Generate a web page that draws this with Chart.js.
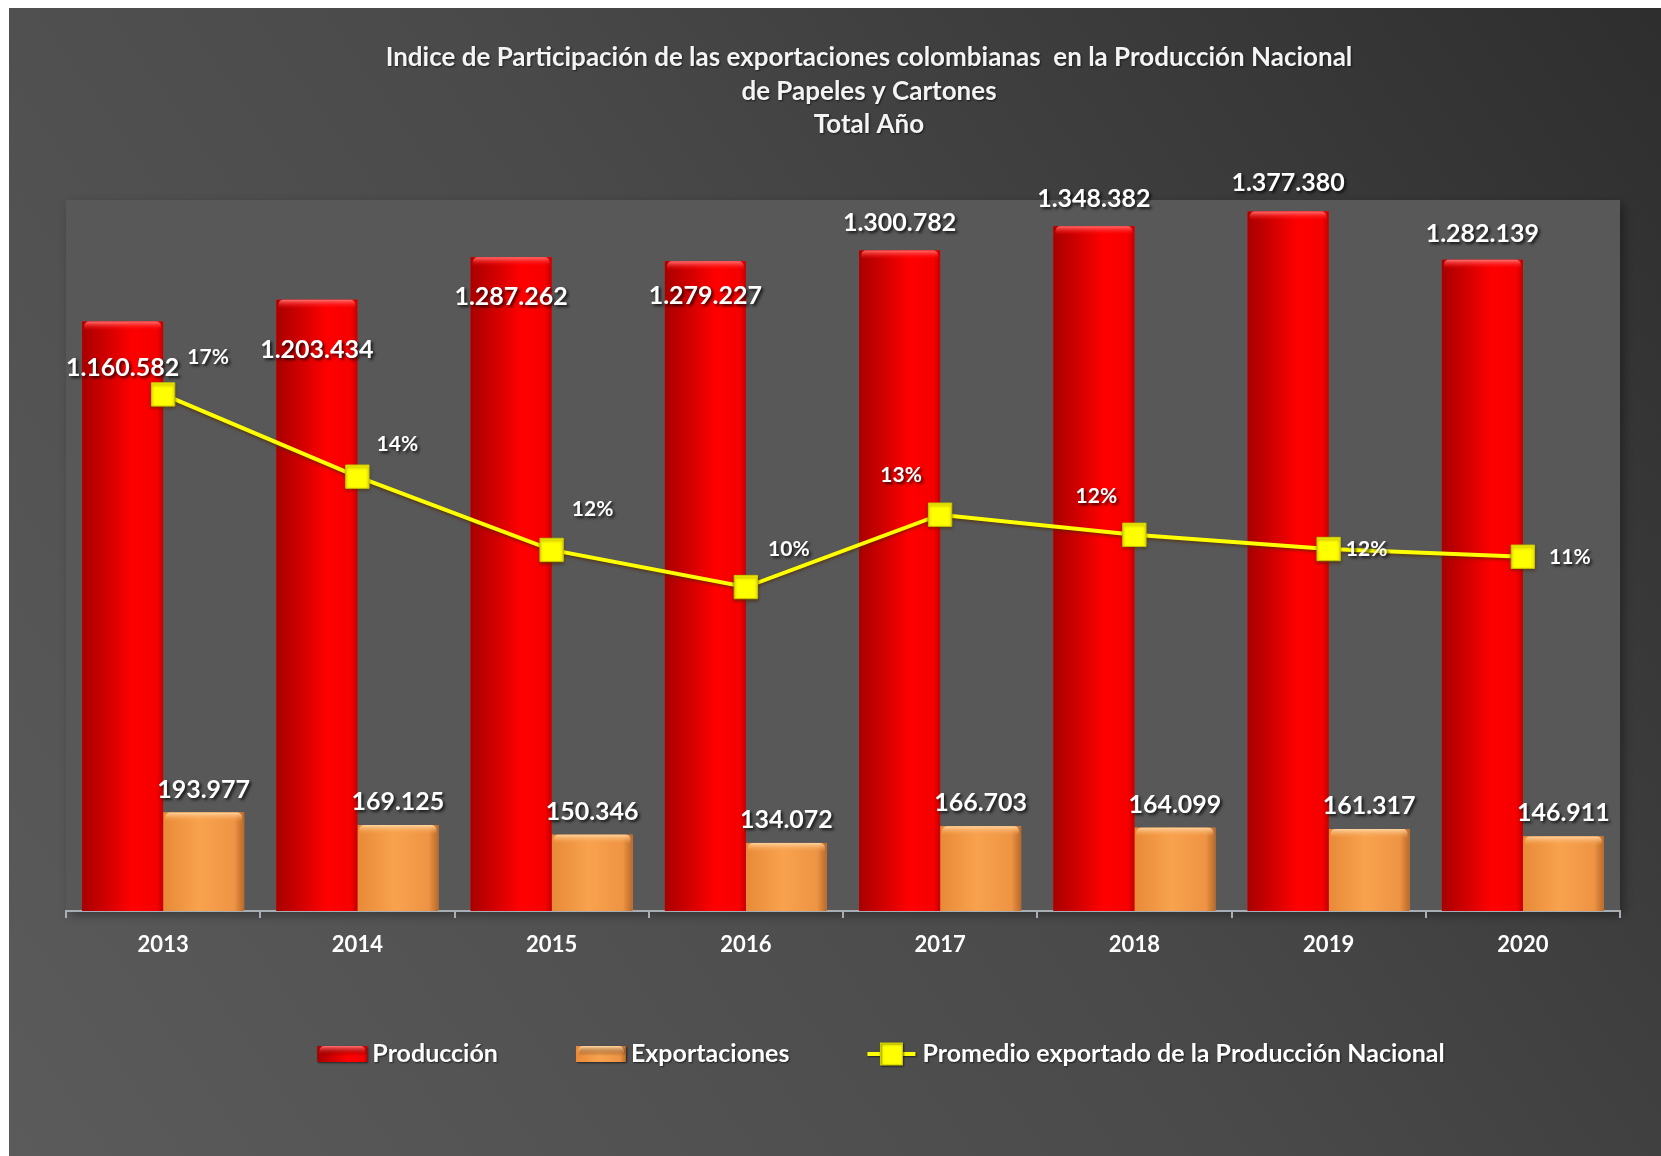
<!DOCTYPE html>
<html>
<head>
<meta charset="utf-8">
<title>Indice de Participación - Papeles y Cartones</title>
<script src="https://cdn.jsdelivr.net/npm/chart.js@4.4.1/dist/chart.umd.min.js"></script>
<style>
  html, body { margin: 0; padding: 0; background: #fff; }
  #wrap { position: absolute; left: 0; top: 0; width: 1661px; height: 1156px; }
</style>
</head>
<body>
<div id="wrap"><canvas id="chart" width="1661" height="1156"></canvas></div>
<script>
const years = ['2013', '2014', '2015', '2016', '2017', '2018', '2019', '2020']
const produccion = [1160582, 1203434, 1287262, 1279227, 1300782, 1348382, 1377380, 1282139]
const exportaciones = [193977, 169125, 150346, 134072, 166703, 164099, 161317, 146911]
// % exportado de la produccion
const promedio = [16.71, 14.05, 11.68, 10.48, 12.82, 12.17, 11.71, 11.46]

const titleLines = [
  'Indice de Participación de las exportaciones colombianas  en la Producción Nacional',
  'de Papeles y Cartones',
  'Total Año'
]
const seriesNames = ['Producción', 'Exportaciones', 'Promedio exportado de la Producción Nacional']

const FONT = 'Lato, "Open Sans", sans-serif'
const fmt = v => String(v).replace(/\B(?=(\d{3})+(?!\d))/g, '.')

// label nudges (px) relative to the element the label belongs to
const prodLabelDy = [46, 50, 40, 35, -27, -27, -29, -26]
const pctLabelOffset = [[45, -37], [40, -32], [41, -41], [43, -38], [-39, -39], [-38, -39], [38, 0], [47, 0]]

const background = {
  id: 'background',
  beforeDraw (chart) {
    const { ctx, width, height, chartArea } = chart
    ctx.save()
    const g = ctx.createLinearGradient(9, height, width, 8)
    g.addColorStop(0, '#5b5b5b')
    g.addColorStop(0.5, '#4a4a4a')
    g.addColorStop(1, '#2e2e2e')
    ctx.fillStyle = g
    ctx.fillRect(9, 8, width - 9, height - 8)
    ctx.shadowColor = 'rgba(0,0,0,0.35)'
    ctx.shadowBlur = 10
    ctx.shadowOffsetX = 4
    ctx.shadowOffsetY = 4
    ctx.fillStyle = '#585858'
    ctx.fillRect(chartArea.left, chartArea.top, chartArea.right - chartArea.left, chartArea.bottom - chartArea.top)
    ctx.restore()
  }
}

const shade = (ctx, left, top, w, h, kind) => {
  const g = ctx.createLinearGradient(left, 0, left + w, 0)
  if (kind === 'red') {
    g.addColorStop(0, '#a80000')
    g.addColorStop(0.35, '#d80000')
    g.addColorStop(0.62, '#ff0000')
    g.addColorStop(0.92, '#f60000')
    g.addColorStop(1, '#c40000')
  } else {
    g.addColorStop(0, '#e88a38')
    g.addColorStop(0.45, '#f8a24e')
    g.addColorStop(0.88, '#ee9444')
    g.addColorStop(1, '#b8692a')
  }
  ctx.fillStyle = g
  ctx.fillRect(left, top, w, h)
  const t = ctx.createLinearGradient(0, top, 0, top + 9)
  t.addColorStop(0, kind === 'red' ? '#ff7070' : '#ffd4a0')
  t.addColorStop(1, kind === 'red' ? 'rgba(255,0,0,0)' : 'rgba(248,162,78,0)')
  ctx.fillStyle = t
  ctx.beginPath()
  ctx.roundRect(left + 2, top, w - 4, Math.min(9, h), [5, 5, 0, 0])
  ctx.fill()
}

const barShading = {
  id: 'barShading',
  afterDatasetDraw (chart, args) {
    if (args.meta.type !== 'bar') return
    const ctx = chart.ctx
    const kind = args.index === 0 ? 'red' : 'orange'
    ctx.save()
    args.meta.data.forEach(bar => {
      const { x, y, base, width } = bar.getProps(['x', 'y', 'base', 'width'], true)
      shade(ctx, x - width / 2, y, width, base - y, kind)
    })
    ctx.restore()
  }
}

const lineShadow = {
  id: 'lineShadow',
  beforeDatasetDraw (chart, args) {
    if (args.meta.type !== 'line') return
    const ctx = chart.ctx
    ctx.save()
    ctx.shadowColor = 'rgba(80,40,0,0.6)'
    ctx.shadowBlur = 3
    ctx.shadowOffsetY = 2
  },
  afterDatasetDraw (chart, args) {
    if (args.meta.type !== 'line') return
    chart.ctx.restore()
  }
}

const valueLabels = {
  id: 'valueLabels',
  afterDatasetsDraw (chart) {
    const ctx = chart.ctx
    ctx.save()
    ctx.fillStyle = '#ffffff'
    ctx.textAlign = 'center'
    ctx.textBaseline = 'middle'
    ctx.shadowColor = 'rgba(0,0,0,0.75)'
    ctx.shadowBlur = 3
    ctx.shadowOffsetX = 2
    ctx.shadowOffsetY = 2
    ctx.font = `bold 25px ${FONT}`
    chart.getDatasetMeta(0).data.forEach((bar, i) => {
      ctx.fillText(fmt(produccion[i]), bar.x, bar.y + prodLabelDy[i])
    })
    chart.getDatasetMeta(1).data.forEach((bar, i) => {
      ctx.fillText(fmt(exportaciones[i]), bar.x, bar.y - 23)
    })
    ctx.font = `bold 21px ${FONT}`
    chart.getDatasetMeta(2).data.forEach((pt, i) => {
      const [dx, dy] = pctLabelOffset[i]
      ctx.fillText(Math.round(promedio[i]) + '%', pt.x + dx, pt.y + dy)
    })
    ctx.restore()
  }
}

const drawLegendIcon = (ctx, i, x, y) => {
  if (i < 2) {
    shade(ctx, x, y - 8, 50, 16, i === 0 ? 'red' : 'orange')
    return
  }
  ctx.fillStyle = '#ffff00'
  ctx.fillRect(x, y - 2, 48, 4)
  ctx.fillStyle = '#ffff00'
  ctx.strokeStyle = '#d0d000'
  ctx.fillRect(x + 13, y - 11, 22, 22)
  ctx.strokeRect(x + 13, y - 11, 22, 22)
}

const titleAndLegend = {
  id: 'titleAndLegend',
  afterDraw (chart) {
    const ctx = chart.ctx
    ctx.save()
    ctx.fillStyle = '#f4f4f4'
    ctx.textAlign = 'center'
    ctx.textBaseline = 'middle'
    ctx.shadowColor = 'rgba(0,0,0,0.6)'
    ctx.shadowBlur = 2
    ctx.shadowOffsetX = 1
    ctx.shadowOffsetY = 1
    ctx.font = `bold 26px ${FONT}`
    const titleY = [58, 92, 125]
    titleLines.forEach((line, i) => ctx.fillText(line, 869, titleY[i]))

    // legend row centred at x=881, y=1054
    ctx.font = `bold 25px ${FONT}`
    ctx.textAlign = 'left'
    const gap = 78
    const widths = seriesNames.map(s => 55 + ctx.measureText(s).width)
    const total = widths.reduce((a, b) => a + b, 0) + gap * (widths.length - 1)
    let x = 881 - total / 2
    seriesNames.forEach((name, i) => {
      drawLegendIcon(ctx, i, x, 1054)
      ctx.fillStyle = '#ffffff'
      ctx.fillText(name, x + 55, 1054)
      x += widths[i] + gap
    })
    ctx.restore()
  }
}

const data = {
  labels: years,
  datasets: [
    {
      type: 'bar',
      label: seriesNames[0],
      data: produccion,
      backgroundColor: '#ff0000',
      yAxisID: 'y',
      order: 1
    },
    {
      type: 'bar',
      label: seriesNames[1],
      data: exportaciones,
      backgroundColor: '#f59a45',
      yAxisID: 'y',
      order: 1
    },
    {
      type: 'line',
      label: seriesNames[2],
      data: promedio,
      borderColor: '#ffff00',
      borderWidth: 4,
      pointStyle: 'rect',
      pointRadius: 16.5,
      pointBackgroundColor: '#ffff00',
      pointBorderColor: '#c8c800',
      pointBorderWidth: 1,
      tension: 0,
      yAxisID: 'y1',
      order: 0
    }
  ]
}

const options = {
  responsive: false,
  animation: false,
  events: [],
  layout: {
    padding: { left: 66, right: 41, top: 200, bottom: 0 }
  },
  datasets: {
    bar: {
      categoryPercentage: 0.834,
      barPercentage: 1
    }
  },
  plugins: {
    legend: { display: false },
    title: { display: false },
    tooltip: { enabled: false }
  },
  scales: {
    x: {
      grid: {
        display: true,
        drawOnChartArea: false,
        drawTicks: true,
        tickLength: 7,
        color: '#a8aeb6',
        lineWidth: 2
      },
      border: { display: true, color: '#a8aeb6', width: 2 },
      ticks: {
        color: '#ffffff',
        padding: 14,
        font: { family: FONT, size: 22, weight: 'bold' }
      },
      afterFit (scale) {
        scale.height = 245
      }
    },
    y: {
      display: false,
      min: 0,
      max: 1400000
    },
    y1: {
      display: false,
      position: 'right',
      min: 0,
      max: 23
    }
  }
}

new Chart(document.querySelector('#chart'), {
  data,
  options,
  plugins: [background, barShading, lineShadow, valueLabels, titleAndLegend]
})
</script>
</body>
</html>
